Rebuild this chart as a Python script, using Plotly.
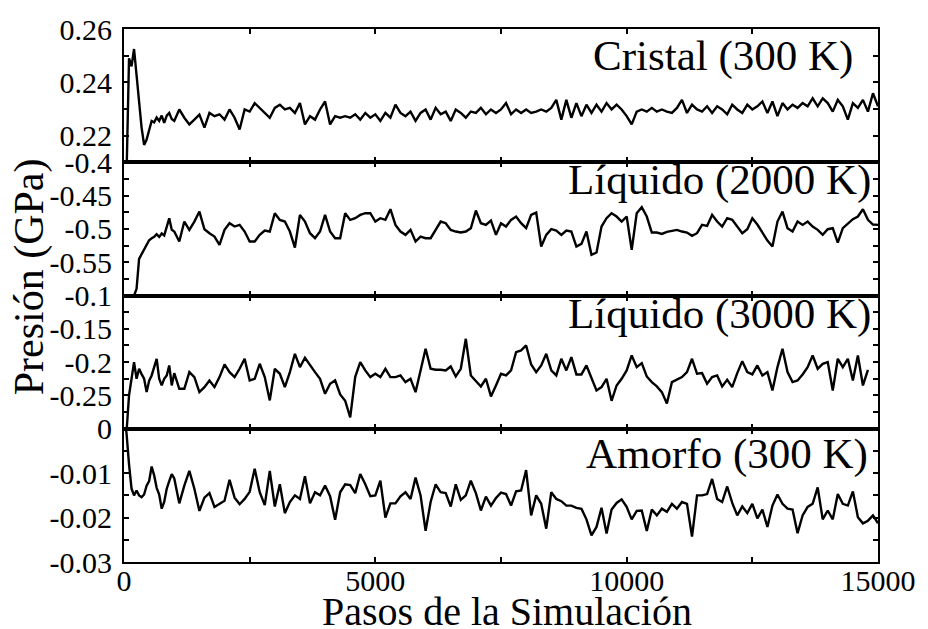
import plotly.graph_objects as go
from plotly.subplots import make_subplots

# Simulation step grid: finer sampling over the initial transient
steps = list(range(0, 1000, 50)) + list(range(1000, 15001, 100))

# Pressure (GPa) per run
cristal_300 = [
    0.190, 0.205, 0.249, 0.246, 0.2525, 0.243, 0.233, 0.223, 0.2165, 0.2185,
    0.222, 0.2255, 0.225, 0.2268, 0.2255, 0.2275, 0.2248, 0.2275, 0.2285, 0.2262,
    0.2255, 0.2298, 0.2267, 0.2242, 0.226, 0.2279, 0.223, 0.2285, 0.2273, 0.228,
    0.226, 0.2298, 0.2267, 0.2223, 0.2298, 0.229, 0.2322, 0.2304, 0.2285, 0.2267,
    0.2304, 0.2316, 0.2298, 0.2304, 0.2285, 0.2322, 0.2242, 0.2273, 0.226, 0.2298,
    0.2328, 0.2242, 0.2273, 0.2267, 0.2273, 0.2267, 0.228, 0.226, 0.2285, 0.2267,
    0.228, 0.2255, 0.2285, 0.2267, 0.2316, 0.2285, 0.2273, 0.229, 0.2255, 0.2285,
    0.2298, 0.226, 0.2304, 0.228, 0.229, 0.2255, 0.2298, 0.2285, 0.2267, 0.229,
    0.2285, 0.2304, 0.228, 0.2298, 0.2285, 0.2298, 0.2322, 0.228, 0.2298, 0.2285,
    0.2298, 0.2285, 0.229, 0.2298, 0.229, 0.2304, 0.2334, 0.226, 0.2334, 0.2267,
    0.2322, 0.2273, 0.2316, 0.2285, 0.2316, 0.229, 0.2322, 0.2298, 0.2316, 0.2298,
    0.2273, 0.2242, 0.229, 0.2298, 0.229, 0.2304, 0.229, 0.2298, 0.229, 0.2285,
    0.2304, 0.2334, 0.2285, 0.2316, 0.2298, 0.229, 0.231, 0.2285, 0.231, 0.2298,
    0.228, 0.2316, 0.2298, 0.2285, 0.2316, 0.2298, 0.231, 0.2328, 0.2285, 0.2328,
    0.2273, 0.2322, 0.2298, 0.2316, 0.2304, 0.2322, 0.231, 0.234, 0.231, 0.234,
    0.2322, 0.229, 0.2334, 0.231, 0.226, 0.2322, 0.2304, 0.2334, 0.229, 0.2359,
    0.231,
]

liquido_2000 = [
    -0.66, -0.65, -0.64, -0.625, -0.6, -0.59, -0.545, -0.538, -0.532, -0.524,
    -0.517, -0.514, -0.512, -0.508, -0.512, -0.507, -0.51, -0.497, -0.484, -0.5015,
    -0.504, -0.519, -0.489, -0.5015, -0.489, -0.474, -0.5005, -0.5065, -0.5115, -0.524,
    -0.5015, -0.4915, -0.4965, -0.494, -0.504, -0.519, -0.519, -0.509, -0.5025, -0.504,
    -0.4765, -0.4865, -0.489, -0.504, -0.528, -0.479, -0.489, -0.5065, -0.514, -0.504,
    -0.479, -0.504, -0.514, -0.514, -0.4765, -0.4865, -0.484, -0.479, -0.4765, -0.4765,
    -0.489, -0.484, -0.4865, -0.4705, -0.494, -0.504, -0.509, -0.5015, -0.519, -0.5115,
    -0.514, -0.514, -0.5015, -0.489, -0.4915, -0.5015, -0.504, -0.5055, -0.504, -0.499,
    -0.4725, -0.4915, -0.494, -0.4875, -0.509, -0.4915, -0.4965, -0.4865, -0.4815, -0.4915,
    -0.499, -0.479, -0.4755, -0.5265, -0.509, -0.5005, -0.5025, -0.509, -0.5025, -0.504,
    -0.5265, -0.5225, -0.504, -0.539, -0.5355, -0.4965, -0.484, -0.4765, -0.4815, -0.489,
    -0.4815, -0.5315, -0.4765, -0.4675, -0.4815, -0.5055, -0.5055, -0.5075, -0.5045, -0.5025,
    -0.5015, -0.504, -0.5055, -0.5105, -0.5065, -0.494, -0.4955, -0.479, -0.489, -0.4965,
    -0.484, -0.4865, -0.4965, -0.5065, -0.5005, -0.484, -0.4935, -0.5065, -0.5175, -0.5265,
    -0.489, -0.474, -0.499, -0.504, -0.489, -0.494, -0.489, -0.4965, -0.5015, -0.509,
    -0.5005, -0.499, -0.5205, -0.499, -0.4915, -0.4855, -0.4815, -0.4705, -0.4865, -0.4935,
    -0.494,
]

liquido_3000 = [
    -0.36, -0.31, -0.25, -0.225, -0.2, -0.225, -0.21, -0.218, -0.225, -0.245,
    -0.228, -0.22, -0.208, -0.195, -0.225, -0.235, -0.225, -0.22, -0.205, -0.235,
    -0.2165, -0.24, -0.24, -0.215, -0.2225, -0.245, -0.2375, -0.2275, -0.2375, -0.2225,
    -0.2035, -0.215, -0.2225, -0.21, -0.195, -0.2275, -0.225, -0.2025, -0.2225, -0.2575,
    -0.21, -0.2175, -0.2375, -0.215, -0.1875, -0.2075, -0.1935, -0.205, -0.215, -0.225,
    -0.2475, -0.2325, -0.2275, -0.2485, -0.258, -0.283, -0.222, -0.2, -0.2125, -0.2225,
    -0.2175, -0.2225, -0.21, -0.2225, -0.2225, -0.22, -0.23, -0.225, -0.245, -0.2125,
    -0.18, -0.21, -0.2115, -0.2115, -0.2125, -0.2065, -0.2215, -0.21, -0.165, -0.22,
    -0.2275, -0.2365, -0.225, -0.2515, -0.235, -0.2175, -0.22, -0.2125, -0.185, -0.1825,
    -0.175, -0.2035, -0.215, -0.205, -0.1875, -0.2125, -0.22, -0.195, -0.2125, -0.1925,
    -0.2185, -0.2185, -0.205, -0.225, -0.2425, -0.2375, -0.225, -0.258, -0.235, -0.225,
    -0.2125, -0.19, -0.2075, -0.2015, -0.2215, -0.23, -0.2365, -0.245, -0.262, -0.23,
    -0.2265, -0.2225, -0.215, -0.195, -0.2175, -0.2165, -0.2325, -0.2225, -0.22, -0.2365,
    -0.2265, -0.2375, -0.2165, -0.1985, -0.215, -0.2185, -0.205, -0.22, -0.215, -0.2425,
    -0.2075, -0.18, -0.215, -0.23, -0.2275, -0.2185, -0.2075, -0.19, -0.21, -0.2025,
    -0.2, -0.2425, -0.195, -0.2075, -0.195, -0.2275, -0.19, -0.235, -0.2115, None,
    None,
]

amorfo_300 = [
    0.003, -0.001, -0.008, -0.0135, -0.015, -0.0139, -0.015, -0.0154, -0.0148, -0.0128,
    -0.0118, -0.0085, -0.0105, -0.0133, -0.0148, -0.018, -0.0165, -0.0135, -0.0118, -0.0102,
    -0.0112, -0.0168, -0.0128, -0.0095, -0.0135, -0.0185, -0.0155, -0.0145, -0.0176, -0.0168,
    -0.0162, -0.0115, -0.0155, -0.017, -0.0158, -0.0142, -0.009, -0.0143, -0.0172, -0.0095,
    -0.0175, -0.0125, -0.019, -0.0165, -0.015, -0.0158, -0.0107, -0.0168, -0.0143, -0.015,
    -0.0128, -0.0152, -0.0205, -0.0143, -0.0125, -0.0127, -0.0145, -0.0102, -0.0125, -0.0152,
    -0.015, -0.0117, -0.02, -0.0168, -0.0168, -0.0152, -0.0143, -0.0158, -0.011, -0.015,
    -0.023, -0.0165, -0.0125, -0.0143, -0.0145, -0.0175, -0.0125, -0.016, -0.015, -0.0117,
    -0.0145, -0.0184, -0.0153, -0.0173, -0.0156, -0.0144, -0.0147, -0.0173, -0.0141, -0.0139,
    -0.0093, -0.0195, -0.015, -0.0169, -0.0225, -0.0143, -0.0158, -0.0163, -0.0173, -0.0173,
    -0.0178, -0.018, -0.0204, -0.024, -0.0221, -0.0178, -0.0236, -0.0182, -0.0167, -0.0159,
    -0.0176, -0.0204, -0.0185, -0.0184, -0.023, -0.0182, -0.0195, -0.018, -0.0187, -0.0169,
    -0.018, -0.0165, -0.0169, -0.0243, -0.015, -0.015, -0.0147, -0.0113, -0.0158, -0.0165,
    -0.013, -0.0167, -0.0195, -0.0175, -0.019, -0.0169, -0.0202, -0.0182, -0.0221, -0.0173,
    -0.0148, -0.0169, -0.018, -0.0182, -0.0235, -0.0195, -0.0176, -0.0169, -0.0132, -0.0204,
    -0.0184, -0.0204, -0.0147, -0.0169, -0.0173, -0.0141, -0.0199, -0.0213, -0.0207, -0.0195,
    -0.0213,
]

panel_names = ["Cristal (300 K)", "Líquido (2000 K)", "Líquido (3000 K)", "Amorfo (300 K)"]
series = [cristal_300, liquido_2000, liquido_3000, amorfo_300]

# Axis ranges and tick labels for each panel
y_ranges = [[0.21, 0.26], [-0.6, -0.4], [-0.3, -0.1], [-0.03, 0.0]]
y_tickvals = [
    [0.22, 0.24, 0.26],
    [-0.6, -0.55, -0.5, -0.45, -0.4],
    [-0.3, -0.25, -0.2, -0.15, -0.1],
    [-0.03, -0.02, -0.01, 0.0],
]
y_ticktext = [
    ["0.22", "0.24", "0.26"],
    ["", "-0.55", "-0.5", "-0.45", "-0.4"],
    ["", "-0.25", "-0.2", "-0.15", "-0.1"],
    ["-0.03", "-0.02", "-0.01", "0"],
]
y_minor = [
    [0.21, 0.23, 0.25],
    [-0.575, -0.525, -0.475, -0.425],
    [-0.275, -0.225, -0.175, -0.125],
    [-0.025, -0.015, -0.005],
]
x_tickvals = [0, 5000, 10000, 15000]
x_ticktext = ["0", "5000", "10000", "15000"]

FONT = "'Liberation Serif', 'Times New Roman', Times, serif"

fig = make_subplots(rows=4, cols=1, shared_xaxes=True, vertical_spacing=0)

for i, ys in enumerate(series):
    fig.add_trace(
        go.Scatter(x=steps, y=ys, mode="lines",
                   line=dict(color="black", width=2.4),
                   connectgaps=False, showlegend=False, hoverinfo="skip"),
        row=i + 1, col=1,
    )

axis_common = dict(
    showline=True, linecolor="black", linewidth=2, mirror="ticks",
    ticks="inside", ticklen=5, tickwidth=2, tickcolor="black",
    showgrid=False, zeroline=False,
    tickfont=dict(family=FONT, size=30, color="black"),
)

for i in range(4):
    fig.update_yaxes(
        range=y_ranges[i], tickmode="array",
        tickvals=y_tickvals[i], ticktext=y_ticktext[i],
        minor=dict(tickmode="array", tickvals=y_minor[i], ticks="inside",
                   ticklen=5, tickwidth=2, tickcolor="black", showgrid=False),
        ticklabelstandoff=4,
        row=i + 1, col=1, **axis_common,
    )
    fig.update_xaxes(
        range=[0, 15000], tickmode="array",
        tickvals=x_tickvals, ticktext=x_ticktext,
        minor=dict(dtick=2500, tick0=0, ticks="inside", ticklen=5,
                   tickwidth=2, tickcolor="black", showgrid=False),
        showticklabels=(i == 3),
        ticklabelstandoff=-9,
        row=i + 1, col=1, **axis_common,
    )

# Panel labels, right-aligned near the top-right corner of each panel
label_pos = [(0.970, 0.80), (0.993, 0.87), (0.993, 0.86), (0.990, 0.81)]
for i, name in enumerate(panel_names):
    ax = "" if i == 0 else str(i + 1)
    fig.add_annotation(
        text=name, xref=f"x{ax} domain", yref=f"y{ax} domain",
        x=label_pos[i][0], y=label_pos[i][1],
        xanchor="right", yanchor="middle", showarrow=False,
        font=dict(family=FONT, size=43, color="black"),
    )

# Axis titles
fig.add_annotation(
    text="Pasos de la Simulación", xref="paper", yref="paper",
    x=0.508, y=-0.092, xanchor="center", yanchor="middle", showarrow=False,
    font=dict(family=FONT, size=40, color="black"),
)
fig.add_annotation(
    text="Presión (GPa)", xref="paper", yref="paper", textangle=-90,
    x=-0.126, y=0.536, xanchor="center", yanchor="middle", showarrow=False,
    font=dict(family=FONT, size=42, color="black"),
)

fig.update_layout(
    width=928, height=629,
    margin=dict(l=124, r=42, t=25, b=67),
    paper_bgcolor="white", plot_bgcolor="white",
    font=dict(family=FONT, color="black"),
)

fig.write_html("out.html")
